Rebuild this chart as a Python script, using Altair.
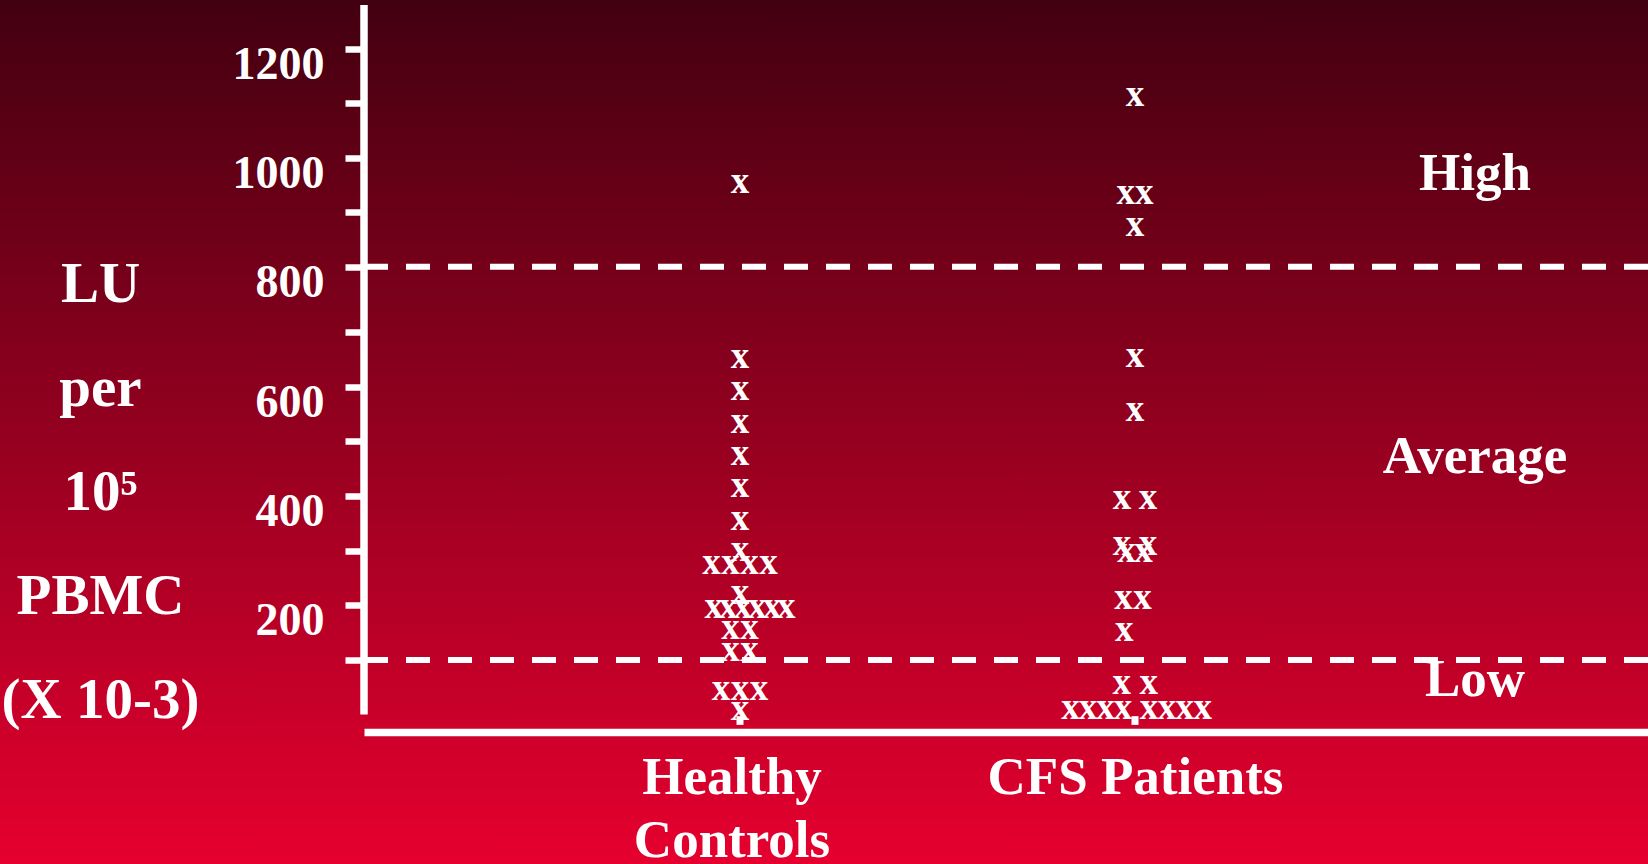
import altair as alt
import pandas as pd

FONT = "Liberation Serif"

# ---- data ----
groups = ["Healthy Controls", "CFS Patients"]
group_lines = [["Healthy", "Controls"], ["CFS Patients"]]
label_pos = [-0.0215, 1]          # where the category names sit on the x axis

healthy_values = [950, 650, 590, 530, 472, 412, 352, 296,
                  272, 272, 272, 272, 217,
                  191, 191, 191, 191, 191, 191,
                  152, 152, 113, 113, 42, 42, 42, 5]
healthy_slots = [0, 0, 0, 0, 0, 0, 0, 0,
                 -1.5, -0.5, 0.5, 1.5, 0,
                 -1.38, -0.62, 0.15, 0.91, 1.68, 2.44,
                 -0.5, 0.5, -0.5, 0.5, -1, 0, 1, 0]

cfs_values = [1109, 930, 930, 871, 651, 551, 390, 390,
              306, 306, 294, 294, 208, 208, 149, 53, 53,
              6, 6, 6, 6, 6, 6, 6, 6]
cfs_slots = [0, -0.49, 0.49, 0, 0, 0, -0.68, 0.68,
             -0.68, 0.68, -0.45, 0.45, -0.6, 0.4, -0.57, -0.7, 0.72,
             -3.39, -2.47, -1.55, -0.63, 0.74, 1.68, 2.62, 3.56]

thresholds = [800, 100]
zone_names = ["High", "Average", "Low"]
zone_values = [940, 442, 34]

y_ticks = [100, 200, 300, 400, 500, 600, 700, 800, 900, 1000, 1100, 1200]
y_title = ["LU", "per", "\u00a0\u00a010\u2075", "PBMC", "(X 10-3)"]

# one "x" glyph is 19 px wide; the two columns are 395 px apart
SLOT_IN_GROUP_UNITS = 19 / 395

points = pd.DataFrame({
    "pos": [0] * len(healthy_values) + [1] * len(cfs_values),
    "group": [groups[0]] * len(healthy_values) + [groups[1]] * len(cfs_values),
    "value": healthy_values + cfs_values,
    "slot": healthy_slots + cfs_slots,
})

# ---- scales / axes ----
y_scale = alt.Scale(domain=[-32, 600, 700, 800, 1280],
                    range=[732, 386.7, 332.3, 266.7, 5],
                    nice=False, zero=False)

y_axis = alt.Axis(
    values=y_ticks, format="d",
    labelExpr="datum.value % 200 === 0 ? datum.label : ''",
    domain=False, grid=False, ticks=True, tickSize=19, tickWidth=6.5,
    tickColor="white", tickCap="butt",
    labelFont=FONT, labelFontSize=46, labelFontWeight="bold", labelColor="white",
    labelPadding=21, labelBaseline="alphabetic", labelOffset=29.5,
    labelAlign="right", labelOverlap=False, labelBound=False, labelFlush=False,
    title=y_title, titleFont=FONT, titleFontSize=57, titleFontWeight="bold",
    titleColor="white", titleAngle=0, titleAlign="center",
    titleBaseline="alphabetic", titleX=-264, titleY=301.7, titleLineHeight=104,
    zindex=1,
)

label_expr = "datum.value < 0.5 ? %s : %s" % (str(group_lines[0]), repr(group_lines[1][0]))

x_scale = alt.Scale(domain=[-0.9519, 2.2987], nice=False, zero=False)

x_axis = alt.Axis(
    values=label_pos, title=None, ticks=False, tickSize=0, grid=False,
    domain=True, domainColor="white", domainWidth=7.5, domainCap="butt",
    labelExpr=label_expr,
    labelFont=FONT, labelFontSize=53, labelFontWeight="bold", labelColor="white",
    labelAngle=0, labelBaseline="alphabetic", labelPadding=61, labelLineHeight=63,
    labelAlign="center", labelOverlap=False, labelBound=False, labelFlush=False,
    labelLimit=1000, zindex=1,
)

Y = alt.Y("value:Q", scale=y_scale, axis=y_axis)

gradient = alt.LinearGradient(
    gradient="linear", x1=0, x2=0, y1=0, y2=1,
    stops=[alt.GradientStop(offset=0, color="#420010"),
           alt.GradientStop(offset=1, color="#e6002f")],
)

bg = alt.Chart(alt.Data(values=[{"a": 1}])).mark_rect(fill=gradient).encode(
    x=alt.value(-364), x2=alt.value(1284), y=alt.value(0), y2=alt.value(864)
)

rules = alt.Chart(pd.DataFrame({"value": thresholds})).mark_rule(
    color="white", strokeWidth=6, strokeDash=[24, 18], strokeCap="butt"
).encode(y=Y)

yline = alt.Chart(pd.DataFrame({"value": [0], "value_end": [1280]})).mark_rule(
    color="white", strokeWidth=7.5, strokeCap="butt"
).encode(x=alt.value(0), y=Y, y2="value_end:Q")

squares = alt.Chart(pd.DataFrame({"xpos": [0, 1], "value": [-3, -3],
                                  "value_end": [-19, -19]})).mark_rule(
    color="white", strokeWidth=7, strokeCap="butt"
).encode(x=alt.X("xpos:Q", scale=x_scale, axis=x_axis), y=Y, y2="value_end:Q")

pts = alt.Chart(points).transform_calculate(
    xpos="datum.pos + datum.slot * %f" % SLOT_IN_GROUP_UNITS
).mark_text(
    text="x", font=FONT, fontSize=37, fontWeight="bold", color="white",
    baseline="alphabetic", dy=8
).encode(
    x=alt.X("xpos:Q", scale=x_scale, axis=x_axis),
    y=Y,
    tooltip=["group:N", "value:Q"],
)

ann = alt.Chart(pd.DataFrame({"zone": zone_names, "value": zone_values})).mark_text(
    font=FONT, fontSize=53, fontWeight="bold", color="white",
    baseline="alphabetic", align="center"
).encode(x=alt.value(1111), y=Y, text="zone:N")

chart = alt.layer(bg, rules, yline, squares, pts, ann).properties(
    width=1284, height=732,
    padding={"left": 364, "top": 0, "right": 0, "bottom": 132},
    autosize=alt.AutoSizeParams(type="none"),
).configure_view(stroke=None).configure(background="#c8002a")

chart.save("out.html", embed_options={"renderer": "svg", "actions": False})
